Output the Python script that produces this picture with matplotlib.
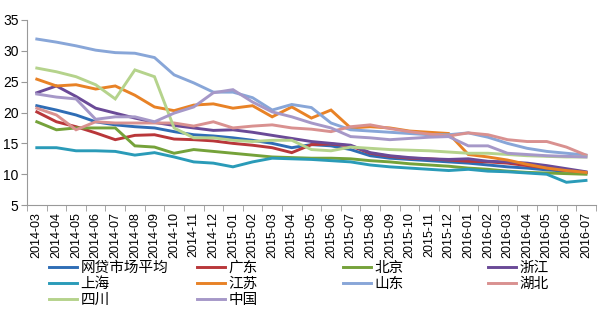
import numpy as np
import matplotlib
matplotlib.use('Agg')
import matplotlib.pyplot as plt

plt.rcParams['font.family'] = ['Liberation Sans', 'Noto Sans CJK SC']

months = ['2014-03', '2014-04', '2014-05', '2014-06', '2014-07', '2014-08',
          '2014-09', '2014-10', '2014-11', '2014-12', '2015-01', '2015-02',
          '2015-03', '2015-04', '2015-05', '2015-06', '2015-07', '2015-08',
          '2015-09', '2015-10', '2015-11', '2015-12', '2016-01', '2016-02',
          '2016-03', '2016-04', '2016-05', '2016-06', '2016-07']

# 综合利率 (%)
avg = [21.1, 20.4, 19.6, 18.5, 18.0, 17.7, 17.5, 16.9, 16.4, 16.2, 15.9, 15.5, 15.0, 14.3, 14.8,
       14.6, 14.0, 13.0, 12.6, 12.4, 12.2, 12.0, 11.8, 11.5, 11.2, 11.0, 10.7, 10.5, 10.3]
guangdong = [20.1, 18.5, 17.7, 16.7, 15.6, 16.3, 16.4, 15.7, 15.6, 15.4, 15.0, 14.7, 14.3, 13.5, 14.8,
             14.9, 14.6, 13.4, 12.9, 12.6, 12.5, 12.3, 12.1, 12.0, 11.8, 11.4, 11.0, 10.6, 10.2]
beijing = [18.5, 17.2, 17.5, 17.5, 17.5, 14.6, 14.4, 13.4, 14.0, 13.7, 13.4, 13.1, 12.8, 12.7, 12.6,
           12.6, 12.5, 12.2, 12.0, 11.7, 11.5, 11.3, 11.0, 10.8, 10.5, 10.3, 10.2, 10.1, 10.0]
zhejiang = [23.2, 24.3, 22.6, 20.7, 19.9, 19.1, 18.4, 17.9, 17.5, 17.1, 17.2, 16.8, 16.3, 15.8, 15.3,
            15.0, 14.7, 13.5, 13.0, 12.7, 12.5, 12.4, 12.5, 12.1, 12.0, 11.8, 11.4, 10.9, 10.4]
shanghai = [14.3, 14.3, 13.8, 13.8, 13.7, 13.1, 13.5, 12.8, 12.0, 11.8, 11.2, 12.0, 12.6, 12.5, 12.4,
            12.2, 12.0, 11.5, 11.2, 11.0, 10.8, 10.6, 10.8, 10.5, 10.4, 10.2, 10.0, 8.7, 9.0]
jiangsu = [25.4, 24.3, 24.5, 23.8, 24.3, 22.8, 20.9, 20.3, 21.2, 21.4, 20.7, 21.1, 19.3, 20.9, 19.1,
           20.4, 17.5, 17.7, 17.5, 17.0, 16.8, 16.6, 13.2, 12.8, 12.3, 11.6, 11.0, 10.6, 10.3]
shandong = [31.9, 31.4, 30.8, 30.1, 29.7, 29.6, 28.9, 26.1, 24.8, 23.3, 23.3, 22.4, 20.4, 21.3, 20.8,
            18.3, 17.2, 17.0, 16.8, 16.6, 16.4, 16.4, 16.7, 16.0, 15.0, 14.2, 13.7, 13.4, 13.1]
hubei = [20.7, 19.6, 17.2, 18.5, 18.3, 18.3, 18.3, 18.3, 17.8, 18.5, 17.5, 17.8, 18.0, 17.5, 17.3,
         16.9, 17.7, 18.0, 17.4, 16.9, 16.5, 16.2, 16.7, 16.4, 15.6, 15.3, 15.3, 14.4, 13.1]
sichuan = [27.2, 26.6, 25.8, 24.5, 22.2, 26.9, 25.8, 17.5, 15.9, 15.9, 15.5, 15.3, 15.5, 15.5, 14.0,
           13.8, 14.4, 14.2, 14.0, 13.9, 13.8, 13.6, 13.4, 13.4, 13.2, 13.0, 12.9, 12.8, 12.8]
china = [23.0, 22.5, 22.2, 18.9, 19.3, 19.3, 18.5, 19.9, 20.9, 23.2, 23.7, 21.7, 20.1, 19.3, 18.3,
         17.5, 16.1, 15.9, 15.6, 15.8, 16.0, 16.1, 14.6, 14.6, 13.4, 13.2, 13.0, 12.9, 12.8]

series = [
    ('网贷市场平均', avg, '#2f6db5'),
    ('广东', guangdong, '#b9373a'),
    ('北京', beijing, '#75a23a'),
    ('浙江', zhejiang, '#6a4a97'),
    ('上海', shanghai, '#2a9bb8'),
    ('江苏', jiangsu, '#e88226'),
    ('山东', shandong, '#88a6d8'),
    ('湖北', hubei, '#d99190'),
    ('四川', sichuan, '#b5d38c'),
    ('中国', china, '#a698c8'),
]

fig = plt.figure(figsize=(6.0, 3.21), dpi=100)
ax = fig.add_axes([0.045, 0.361, 0.948, 0.577])

x = np.arange(len(months))
handles = {}
for name, vals, color in series:
    line, = ax.plot(x, vals, color=color, lw=2.1, solid_joinstyle='miter')
    handles[name] = line

ax.set_xlim(-0.5, len(months) - 0.5)
ax.set_ylim(5, 35)
ax.set_yticks(range(5, 36, 5))
ax.set_xticks(x)
ax.set_xticklabels(months, rotation=90, fontsize=9)
ax.set_xticks(np.arange(-0.5, len(months), 1), minor=True)
ax.tick_params(axis='x', which='major', length=0, pad=5)
ax.tick_params(axis='x', which='minor', length=4, color='#999999')
ax.tick_params(axis='y', length=4, color='#999999', labelsize=10, pad=2)

for side in ('top', 'right'):
    ax.spines[side].set_visible(False)
for side in ('left', 'bottom'):
    ax.spines[side].set_color('#999999')

# legend laid out as four separate columns
columns = [
    (['网贷市场平均', '上海', '四川'], 0.082),
    (['广东', '江苏', '中国'], 0.328),
    (['北京', '山东'], 0.572),
    (['浙江', '湖北'], 0.813),
]
for names, left in columns:
    fig.legend([handles[n] for n in names], names, loc='upper left',
               bbox_to_anchor=(left, 0.188), frameon=False, fontsize=10.5,
               handlelength=1.9, handletextpad=0.25, labelspacing=0.15,
               borderaxespad=0, borderpad=0)

fig.savefig('out.png', dpi=100)
